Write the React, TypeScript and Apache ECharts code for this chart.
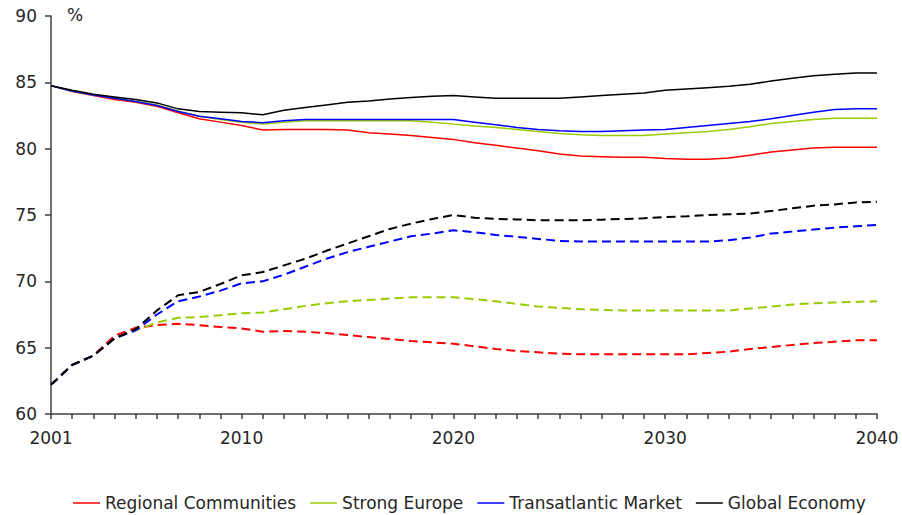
import React, { useEffect, useRef } from "react";
import * as echarts from "echarts";

const years: number[] = Array.from({ length: 40 }, (_, i) => 2001 + i);
const xTickLabels: number[] = [2001, 2010, 2020, 2030, 2040];
const seriesNames: string[] = ["Regional Communities", "Strong Europe", "Transatlantic Market", "Global Economy"];
const colors: string[] = ["#ff0000", "#99cc00", "#0000ff", "#000000"];

// Solid lines
const regionalSolid: number[] = [
  84.75, 84.3, 84.0, 83.7, 83.5, 83.2, 82.7, 82.25, 82.0, 81.75,
  81.4, 81.45, 81.45, 81.45, 81.4, 81.2, 81.1, 81.0, 80.85, 80.7,
  80.45, 80.25, 80.05, 79.85, 79.6, 79.45, 79.4, 79.35, 79.35, 79.25,
  79.2, 79.2, 79.3, 79.5, 79.75, 79.9, 80.05, 80.1, 80.1, 80.1,
];
const europeSolid: number[] = [
  84.75, 84.35, 84.05, 83.8, 83.55, 83.3, 82.85, 82.45, 82.2, 82.0,
  81.85, 82.0, 82.1, 82.1, 82.1, 82.1, 82.1, 82.1, 82.0, 81.85,
  81.7, 81.6, 81.45, 81.3, 81.15, 81.05, 81.0, 81.0, 81.0, 81.1,
  81.2, 81.3, 81.45, 81.65, 81.9, 82.05, 82.2, 82.3, 82.3, 82.3,
];
const atlanticSolid: number[] = [
  84.75, 84.35, 84.05, 83.8, 83.55, 83.25, 82.8, 82.45, 82.25, 82.05,
  81.95, 82.1, 82.2, 82.2, 82.2, 82.2, 82.2, 82.2, 82.2, 82.2,
  82.0, 81.8, 81.6, 81.45, 81.35, 81.3, 81.3, 81.35, 81.4, 81.45,
  81.6, 81.75, 81.9, 82.05, 82.25, 82.5, 82.75, 82.95, 83.0, 83.0,
];
const globalSolid: number[] = [
  84.75, 84.4, 84.1, 83.9, 83.7, 83.45, 83.0, 82.8, 82.75, 82.7,
  82.55, 82.9, 83.1, 83.3, 83.5, 83.6, 83.75, 83.85, 83.95, 84.0,
  83.9, 83.8, 83.8, 83.8, 83.8, 83.9, 84.0, 84.1, 84.2, 84.4,
  84.5, 84.6, 84.7, 84.85, 85.1, 85.3, 85.5, 85.6, 85.7, 85.7,
];

// Dashed lines
const regionalDashed: number[] = [
  62.2, 63.7, 64.4, 65.9, 66.5, 66.7, 66.8, 66.7, 66.55, 66.45,
  66.2, 66.25, 66.2, 66.1, 65.95, 65.8, 65.65, 65.5, 65.4, 65.3,
  65.1, 64.9, 64.75, 64.65, 64.55, 64.5, 64.5, 64.5, 64.5, 64.5,
  64.5, 64.6, 64.7, 64.9, 65.05, 65.2, 65.35, 65.45, 65.55, 65.55,
];
const europeDashed: number[] = [
  62.2, 63.7, 64.4, 65.7, 66.3, 66.9, 67.25, 67.3, 67.45, 67.6,
  67.65, 67.9, 68.15, 68.35, 68.5, 68.6, 68.7, 68.8, 68.8, 68.8,
  68.65, 68.5, 68.3, 68.1, 68.0, 67.9, 67.85, 67.8, 67.8, 67.8,
  67.8, 67.8, 67.8, 67.95, 68.1, 68.25, 68.35, 68.4, 68.45, 68.5,
];
const atlanticDashed: number[] = [
  62.2, 63.7, 64.4, 65.7, 66.3, 67.5, 68.5, 68.85, 69.3, 69.85,
  70.0, 70.5, 71.1, 71.7, 72.2, 72.6, 73.0, 73.4, 73.6, 73.85,
  73.7, 73.5, 73.35, 73.2, 73.05, 73.0, 73.0, 73.0, 73.0, 73.0,
  73.0, 73.0, 73.1, 73.3, 73.6, 73.75, 73.9, 74.05, 74.15, 74.25,
];
const globalDashed: number[] = [
  62.2, 63.7, 64.4, 65.7, 66.4, 67.8, 68.95, 69.2, 69.8, 70.45,
  70.7, 71.2, 71.7, 72.3, 72.85, 73.4, 73.95, 74.35, 74.7, 75.0,
  74.8, 74.7, 74.67, 74.6, 74.6, 74.6, 74.65, 74.7, 74.75, 74.85,
  74.9, 75.0, 75.05, 75.1, 75.3, 75.5, 75.7, 75.8, 75.95, 76.0,
];

const solidData: number[][] = [regionalSolid, europeSolid, atlanticSolid, globalSolid];
const dashedData: number[][] = [regionalDashed, europeDashed, atlanticDashed, globalDashed];

const FONT = "'DejaVu Sans', 'Liberation Sans', Arial, sans-serif";
const TEXT = "#262626";

export default function App() {
  const ref = useRef<HTMLDivElement>(null);

  useEffect(() => {
    if (!ref.current) return;
    const chart = echarts.init(ref.current, undefined, { renderer: "svg" });

    const pair = (vals: number[]) => years.map((y, i) => [y, vals[i]]);

    const dashedSeries = dashedData.map((vals, i) => ({
      name: seriesNames[i] + " (dashed)",
      type: "line",
      data: pair(vals),
      symbol: "none",
      silent: true,
      lineStyle: { color: colors[i], width: 2, type: [9, 5] },
      itemStyle: { color: colors[i] },
      z: 2 + i,
    }));
    const solidSeries = solidData.map((vals, i) => ({
      name: seriesNames[i],
      type: "line",
      data: pair(vals),
      symbol: "none",
      silent: true,
      lineStyle: { color: colors[i], width: 1.5 },
      itemStyle: { color: colors[i] },
      z: 10 + i,
    }));

    chart.setOption({
      animation: false,
      grid: { left: 51, right: 25, top: 16, bottom: 101, containLabel: false },
      xAxis: {
        type: "value",
        min: 2001,
        max: 2040,
        interval: 1,
        splitLine: { show: false },
        axisLine: { show: true, lineStyle: { color: "#404040", width: 1.5 } },
        axisTick: { show: true, length: 5, lineStyle: { color: "#404040", width: 1.5 } },
        axisLabel: {
          margin: 15,
          fontFamily: FONT,
          fontSize: 17,
          color: TEXT,
          showMinLabel: true,
          showMaxLabel: true,
          hideOverlap: false,
          formatter: (v: number) => (xTickLabels.includes(Math.round(v)) ? String(Math.round(v)) : ""),
        },
      },
      yAxis: {
        type: "value",
        min: 60,
        max: 90,
        interval: 5,
        splitLine: { show: false },
        axisLine: { show: true, lineStyle: { color: "#404040", width: 1.5 } },
        axisTick: { show: true, length: 6, lineStyle: { color: "#404040", width: 1.5 } },
        axisLabel: { margin: 14, fontFamily: FONT, fontSize: 17, color: TEXT },
      },
      legend: {
        data: seriesNames,
        left: 73,
        top: 493,
        padding: 0,
        itemGap: 14,
        itemWidth: 27,
        itemHeight: 1.5,
        icon: "rect",
        selectedMode: false,
        textStyle: { fontFamily: FONT, fontSize: 17, color: TEXT, lineHeight: 20 },
      },
      graphic: [
        {
          type: "text",
          left: 67,
          top: 6,
          style: { text: "%", fontFamily: FONT, fontSize: 17, fill: TEXT },
        },
      ],
      series: [...dashedSeries, ...solidSeries],
    });

    return () => chart.dispose();
  }, []);

  return (
    <div
      ref={ref}
      style={{ position: "fixed", left: 0, top: 0, width: 902, height: 515, background: "#fff" }}
    />
  );
}
